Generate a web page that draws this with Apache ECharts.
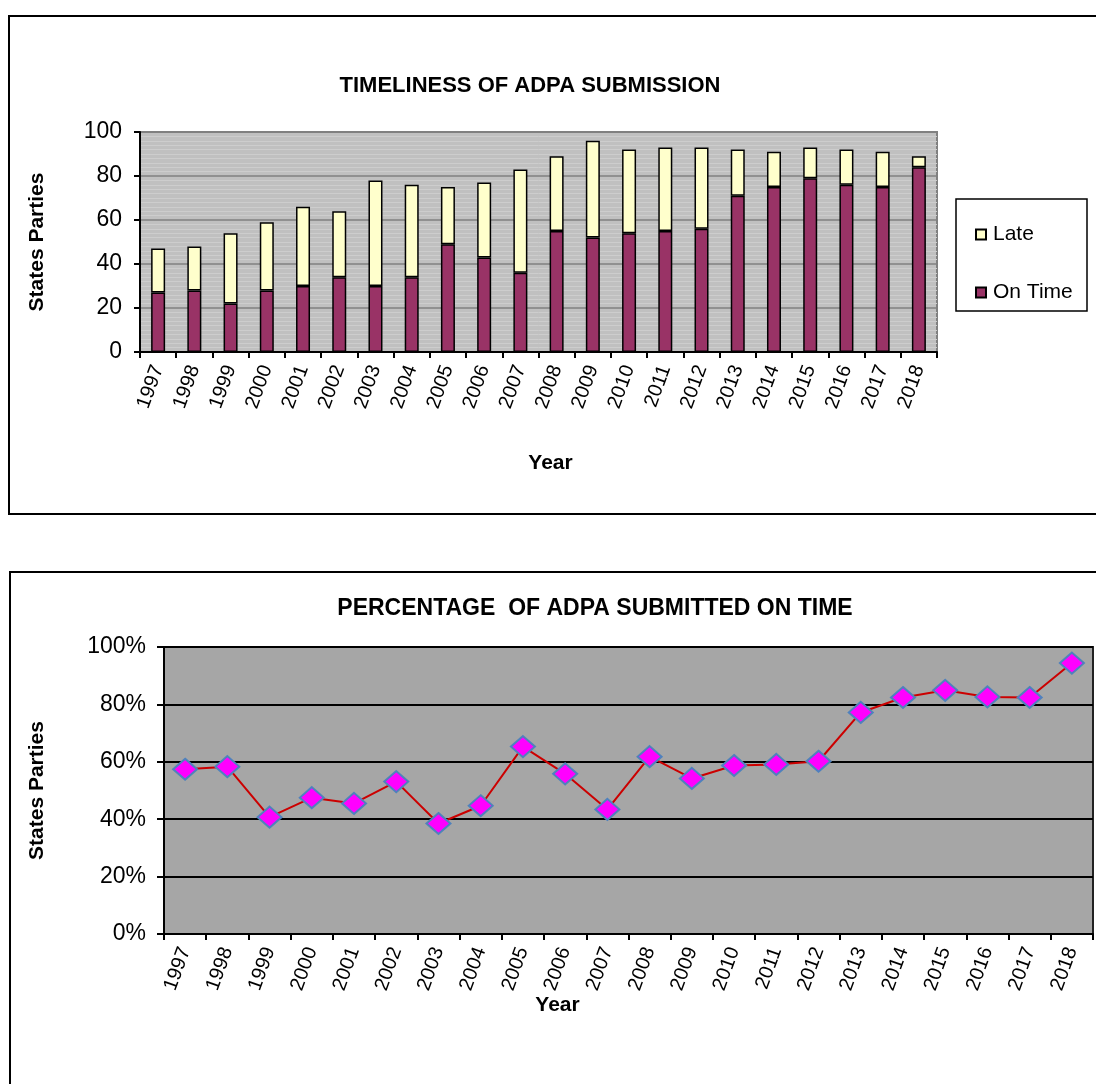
<!DOCTYPE html>
<html>
<head>
<meta charset="utf-8">
<script src="https://cdn.jsdelivr.net/npm/echarts@6/dist/echarts.min.js"></script>
<style>
html,body{margin:0;padding:0;background:#fff;}
#c{width:1096px;height:1084px;}
</style>
</head>
<body>
<div id="c"></div>
<script>
var years = ['1997','1998','1999','2000','2001','2002','2003','2004','2005','2006','2007','2008','2009','2010','2011','2012','2013','2014','2015','2016','2017','2018'];
var onTime = [27,28,22,28,30,34,30,34,49,43,36,55,52,54,55,56,71,75,79,76,75,84];
var late   = [20,20,32,31,36,30,48,42,26,34,47,34,44,38,38,37,21,16,14,16,16,5];
var pctOnTime = [57.4,58.3,40.7,47.5,45.5,53.1,38.5,44.7,65.3,55.8,43.4,61.8,54.2,58.7,59.1,60.2,77.2,82.4,84.9,82.6,82.4,94.4];
var countTicks = [0,20,40,60,80,100];
var pctTicks = ['0%','20%','40%','60%','80%','100%'];

var FONT = "'Liberation Sans', Arial, sans-serif";
var chart = echarts.init(document.getElementById('c'), null, {renderer:'canvas'});

function xAxisCfg(gridIndex, nameGap, namePad){
  return {
    type:'category', gridIndex:gridIndex, data:years, boundaryGap:true,
    axisLine:{show:true, lineStyle:{color:'#000', width:2}},
    axisTick:{show:true, inside:false, length:6, lineStyle:{color:'#000', width:2}},
    axisLabel:{rotate:70, fontSize:20, fontFamily:FONT, color:'#000', margin:14, interval:0},
    name:'Year', nameLocation:'middle', nameGap:nameGap, nameMoveOverlap:false,
    nameTextStyle:{fontSize:21, fontWeight:'bold', fontFamily:FONT, color:'#000', padding:namePad}
  };
}

var option = {
  animation:false,
  backgroundColor:'#fff',
  graphic:[
    {type:'rect', shape:{x:9, y:16, width:1110, height:498}, style:{fill:'none', stroke:'#000', lineWidth:2}, silent:true},
    {type:'rect', shape:{x:10, y:572, width:1110, height:600}, style:{fill:'none', stroke:'#000', lineWidth:2}, silent:true},
    {type:'rect', shape:{x:956, y:199, width:131, height:112}, style:{fill:'#fff', stroke:'#000', lineWidth:1.5}, silent:true, z:-1}
  ],
  title:[
    {text:'TIMELINESS OF ADPA SUBMISSION', left:525, top:70, textAlign:'center',
     textStyle:{fontSize:22, fontWeight:'bold', fontFamily:FONT, color:'#000'}},
    {text:'PERCENTAGE  OF ADPA SUBMITTED ON TIME', left:590, top:592, textAlign:'center',
     textStyle:{fontSize:23, fontWeight:'bold', fontFamily:FONT, color:'#000'}}
  ],
  legend:{
    data:['Late','On Time'], orient:'vertical', left:970, top:219, itemGap:37,
    itemWidth:10, itemHeight:10, icon:'rect',
    textStyle:{fontSize:21, fontFamily:FONT, color:'#000', lineHeight:20, padding:[0,0,0,2]},
    selectedMode:false
  },
  grid:[
    {left:140, top:132, width:797, height:220, show:true, backgroundColor:'#C0C0C0', borderColor:'#808080', borderWidth:2},
    {left:164, top:647, width:929, height:287, show:true, backgroundColor:'#A6A6A6', borderColor:'#222', borderWidth:2}
  ],
  xAxis:[ xAxisCfg(0, 101, [0,0,0,24]), xAxisCfg(1, 61, [0,142,0,0]) ],
  yAxis:[
    {type:'value', gridIndex:0, min:0, max:100, interval:20,
     axisLine:{show:true, lineStyle:{color:'#000', width:2}},
     axisTick:{show:true, inside:false, length:6, lineStyle:{color:'#000', width:2}},
     axisLabel:{fontSize:23, fontFamily:FONT, color:'#000', margin:18,
       formatter:function(v){ return countTicks.indexOf(v) >= 0 ? String(v) : ''; }},
     splitLine:{show:true, lineStyle:{color:'#808080', width:1.5}},
     minorTick:{show:false, splitNumber:10},
     minorSplitLine:{show:true, lineStyle:{color:'#CDCDCD', width:1}},
     name:'States Parties', nameLocation:'middle', nameRotate:90, nameGap:92,
     nameTextStyle:{fontSize:21, fontWeight:'bold', fontFamily:FONT, color:'#000'}},
    {type:'value', gridIndex:1, min:0, max:100, interval:20,
     axisLine:{show:true, lineStyle:{color:'#000', width:2}},
     axisTick:{show:true, inside:false, length:7, lineStyle:{color:'#000', width:2}},
     axisLabel:{fontSize:23, fontFamily:FONT, color:'#000', margin:18,
       formatter:function(v){ return pctTicks[Math.round(v/20)]; }},
     splitLine:{show:true, lineStyle:{color:'#000', width:2}},
     name:'States Parties', nameLocation:'middle', nameRotate:90, nameGap:116,
     nameTextStyle:{fontSize:21, fontWeight:'bold', fontFamily:FONT, color:'#000'}}
  ],
  series:[
    {name:'On Time', type:'bar', stack:'a', xAxisIndex:0, yAxisIndex:0, data:onTime, barWidth:14,
     itemStyle:{color:'#993366', borderColor:'#000', borderWidth:1.5}},
    {name:'Late', type:'bar', stack:'a', xAxisIndex:0, yAxisIndex:0, data:late, barWidth:14,
     itemStyle:{color:'#FFFFCC', borderColor:'#000', borderWidth:1.5}},
    {name:'Pct', type:'line', xAxisIndex:1, yAxisIndex:1, data:pctOnTime,
     lineStyle:{color:'#CC0000', width:2}, symbol:'diamond', symbolSize:[24,21],
     itemStyle:{color:'#FF00FF', borderColor:'#4F81BD', borderWidth:2}, z:5}
  ]
};
chart.setOption(option);
</script>
</body>
</html>
